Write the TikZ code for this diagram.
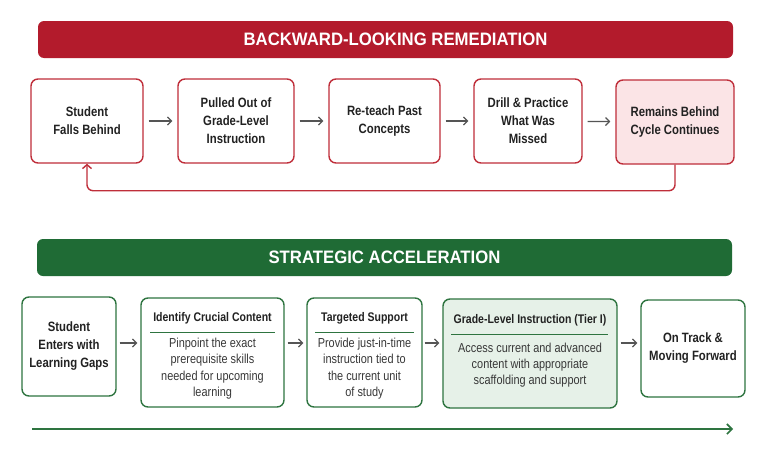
\documentclass[tikz,border=0pt]{standalone}
\usepackage{fontspec}
\setmainfont{Liberation Sans}[FakeStretch=0.84]
\newfontfamily\bannerfont{Liberation Sans}[FakeStretch=0.93]
\usetikzlibrary{arrows.meta}
\definecolor{redbar}{HTML}{B31B2C}
\definecolor{redline}{HTML}{BF2E3A}
\definecolor{pinkfill}{HTML}{FBE4E6}
\definecolor{greenbar}{HTML}{1F6B35}
\definecolor{greenline}{HTML}{2E7440}
\definecolor{greenfill}{HTML}{E6F1E8}
\definecolor{txt}{HTML}{222222}
\definecolor{arrowgray}{HTML}{555555}
\tikzset{
  banner/.style={rounded corners=6pt, inner sep=0pt, minimum height=37pt, text=white,
    font=\bannerfont\fontsize{18}{20}\selectfont\bfseries},
  mainbox/.style={rounded corners=7pt, line width=1.4pt, fill=white, align=center, inner sep=0pt,
    text=txt, font=\fontsize{13.5}{18}\selectfont\bfseries},
  rbox/.style={mainbox, draw=redline},
  gbox/.style={mainbox, draw=greenline},
  headtext/.style={text=txt, inner sep=0pt, font=\fontsize{12.5}{15}\selectfont\bfseries},
  bodytext/.style={text=txt!90, inner sep=0pt, align=center, font=\fontsize{13}{16.3}\selectfont},
  sepline/.style={draw=greenline, line width=0.9pt},
  flow/.style={draw=arrowgray, line width=1.2pt, -{Straight Barb[length=4pt,width=8pt]}},
  loopline/.style={draw=redline, line width=1.4pt, rounded corners=6pt, -{Straight Barb[length=4pt,width=9pt]}},
  trackline/.style={draw=greenline, line width=1.6pt, -{Straight Barb[length=5pt,width=10pt]}},
}
\begin{document}
\begin{tikzpicture}[x=1pt,y=-1pt]
\useasboundingbox[fill=white] (0,0) rectangle (768,458);

% ---------- Backward-looking remediation ----------
\node[banner, fill=redbar, minimum width=695pt] (rb) at (385.5,39.5) {\hspace*{20pt}BACKWARD-LOOKING REMEDIATION};

\node[rbox, minimum width=112pt, minimum height=84pt] (b1) at (87,121) {Student\\Falls Behind};
\node[rbox, minimum width=116pt, minimum height=84pt] (b2) at (236,121) {Pulled Out of\\Grade-Level\\Instruction};
\node[rbox, minimum width=111pt, minimum height=84pt] (b3) at (384.5,121) {Re-teach Past\\Concepts};
\node[rbox, minimum width=108pt, minimum height=84pt] (b4) at (528,121) {Drill \& Practice\\What Was\\Missed};
\node[rbox, fill=pinkfill, minimum width=118pt, minimum height=84pt] (b5) at (675,122) {Remains Behind\\Cycle Continues};

\draw[flow, shorten <=5pt, shorten >=5pt] (b1) -- (b2);
\draw[flow, shorten <=5pt, shorten >=5pt] (b2) -- (b3);
\draw[flow, shorten <=5pt, shorten >=5pt] (b3) -- (b4);
\draw[flow, shorten <=5pt, shorten >=5pt] (b4) -- (b5);

\draw[loopline] (b5.south) -- ++(0,26) -| (b1.south);

% ---------- Strategic acceleration ----------
\node[banner, fill=greenbar, minimum width=695pt] (gb) at (384.5,257.5) {STRATEGIC ACCELERATION};

\node[gbox, minimum width=94pt, minimum height=99pt] (g1) at (69,346.5) {Student\\Enters with\\Learning Gaps};
\node[gbox, minimum width=143pt, minimum height=109pt] (g2) at (212.5,352.5) {};
\node[gbox, minimum width=115pt, minimum height=109pt] (g3) at (364.5,352.5) {};
\node[gbox, fill=greenfill, minimum width=174pt, minimum height=109pt] (g4) at (530,353.5) {};
\node[gbox, minimum width=104pt, minimum height=97pt] (g5) at (693,348.5) {On Track \&\\Moving Forward};

\node[headtext] (h2) at (212.5,318) {Identify Crucial Content};
\draw[sepline] (150,332) -- (275,332);
\node[bodytext] (t2) at (212.5,368.5) {Pinpoint the exact\\prerequisite skills\\needed for upcoming\\learning};

\node[headtext] (h3) at (364.5,318) {Targeted Support};
\draw[sepline] (315,332) -- (414,332);
\node[bodytext] (t3) at (364.5,368.5) {Provide just-in-time\\instruction tied to\\the current unit\\of study};

\node[headtext] (h4) at (530,320.5) {Grade-Level Instruction (Tier I)};
\draw[sepline] (451,334) -- (608,334);
\node[bodytext] (t4) at (530,365) {Access current and advanced\\content with appropriate\\scaffolding and support};

\coordinate (ay) at (0,343);
\draw[flow, shorten <=3pt, shorten >=3pt] (g1.east |- ay) -- (g2.west |- ay);
\draw[flow, shorten <=3pt, shorten >=3pt] (g2.east |- ay) -- (g3.west |- ay);
\draw[flow, shorten <=2pt, shorten >=3pt] (g3.east |- ay) -- (g4.west |- ay);
\draw[flow, shorten <=3pt, shorten >=3pt] (g4.east |- ay) -- (g5.west |- ay);

\coordinate (ts) at (32,429);
\coordinate (te) at (733,429);
\draw[trackline] (ts) -- (te);
\end{tikzpicture}
\end{document}
